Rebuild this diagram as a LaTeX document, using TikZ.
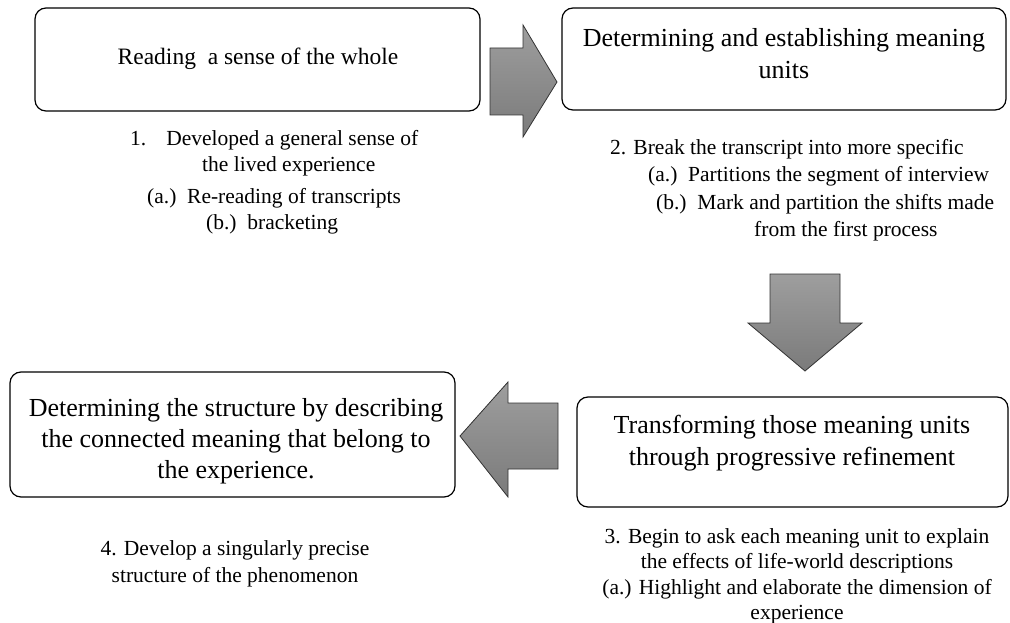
\documentclass[tikz,border=0pt]{standalone}
\usepackage{fontspec}
\setmainfont{Liberation Serif}
\begin{document}
\begin{tikzpicture}[x=1pt,y=1pt,yscale=-1,xscale=1,
  stepbox/.style={rounded corners=11pt, line width=1.2pt},
  blockarrow/.style={draw=black!80, line width=0.8pt, top color=black!38, bottom color=black!52},
  bodytext/.style={inner sep=0pt, font=\fontsize{21.5}{27}\selectfont},
  titletext/.style={inner sep=0pt, align=center, font=\fontsize{26}{32}\selectfont}]
\path [use as bounding box] (0,0) rectangle (1010,623);

%Shape: Rounded Rect [reading]
\draw [stepbox] (35,8) rectangle (480,111);
%Shape: Rounded Rect [units]
\draw [stepbox] (562,8) rectangle (1006,110);
%Shape: Rounded Rect [transforming]
\draw [stepbox] (577,397) rectangle (1008,507);
%Shape: Rounded Rect [structure]
\draw [stepbox] (10,372) rectangle (455,497);

%Shape: Right Arrow
\draw [blockarrow] (490,48) -- (523,48) -- (523,25) -- (557,82) -- (523,137) -- (523,115) -- (490,115) -- cycle ;
%Shape: Down Arrow
\draw [blockarrow] (770,274) -- (840,274) -- (840,323) -- (862,323) -- (805,371) -- (748,323) -- (770,323) -- cycle ;
%Shape: Left Arrow
\draw [blockarrow] (558,403) -- (508,403) -- (508,382) -- (460,436) -- (508,497) -- (508,469) -- (558,469) -- cycle ;

% Text Node
\draw (258,59) node (readtitle) [inner sep=0pt, font=\fontsize{23.5}{28}\selectfont] {Reading\ \ a sense of the whole};
% Text Node
\draw (784,54) node (unitstitle) [titletext] {Determining and establishing meaning\\units};
% Text Node
\draw (792,443) node (transtitle) [titletext] {Transforming those meaning units\\through progressive refinement};
% Text Node
\draw (236,441) node (structtitle) [titletext, font=\fontsize{26}{31}\selectfont] {Determining the structure by describing\\the connected meaning that belong to\\the experience.};

% Text Node
\draw (130,130.3) node (readnotes) [bodytext, anchor=north west, align=left, font=\fontsize{21.5}{25.5}\selectfont] {1.\hspace*{20pt}Developed a general sense of\\
\hspace*{72pt}the lived experience\\[7pt]
\hspace*{17pt}(a.)\ \ Re-reading of transcripts\\
\hspace*{76pt}(b.)\ \ bracketing};
% Text Node
\draw (610,138.8) node (unitsnotes) [bodytext, anchor=north west, align=left, font=\fontsize{21.5}{27.5}\selectfont] {2. Break the transcript into more specific\\
\hspace*{38pt}(a.)\ \ Partitions the segment of interview\\
\hspace*{46pt}(b.)\ \ Mark and partition the shifts made\\
\hspace*{144pt}from the first process};
% Text Node
\draw (797,528.3) node (transnotes) [bodytext, anchor=north, align=center, font=\fontsize{21.5}{25.3}\selectfont] {3. Begin to ask each meaning unit to explain\\
the effects of life-world descriptions\\
(a.) Highlight and elaborate the dimension of\\
experience};
% Text Node
\draw (235,540.3) node (structnotes) [bodytext, anchor=north, align=center] {4. Develop a singularly precise\\structure of the phenomenon};

\end{tikzpicture}
\end{document}
